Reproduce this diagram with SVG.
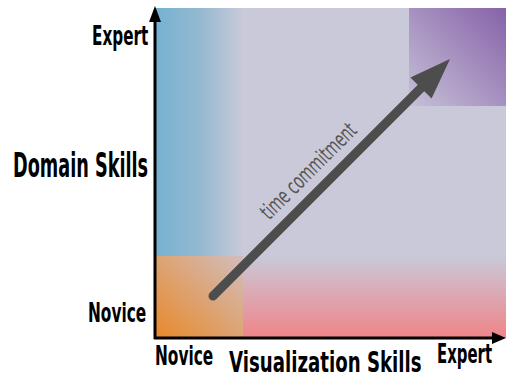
<svg xmlns="http://www.w3.org/2000/svg" width="506" height="379" viewBox="0 0 506 379">
  <defs>
    <linearGradient id="gBlue" x1="0" y1="0" x2="1" y2="0">
      <stop offset="0" stop-color="#75b1d2"/>
      <stop offset="0.5" stop-color="#93b9d0"/>
      <stop offset="1" stop-color="#c9c9d9"/>
    </linearGradient>
    <linearGradient id="gOrange" x1="0" y1="1" x2="1" y2="0">
      <stop offset="0" stop-color="#e8892a"/>
      <stop offset="1" stop-color="#d2bdbc"/>
    </linearGradient>
    <linearGradient id="gPink" x1="0" y1="0" x2="0" y2="1">
      <stop offset="0" stop-color="#c9c9d9"/>
      <stop offset="1" stop-color="#f08488"/>
    </linearGradient>
    <linearGradient id="gPurple" x1="0" y1="1" x2="1" y2="0">
      <stop offset="0" stop-color="#c6c0d7"/>
      <stop offset="1" stop-color="#8762a9"/>
    </linearGradient>
  </defs>
  <style>
    .lbl { font-family: "DejaVu Sans Condensed", "DejaVu Sans", "Liberation Sans", sans-serif; font-weight: bold; fill: #000; }
    .note { font-family: "DejaVu Sans Condensed", "DejaVu Sans", "Liberation Sans", sans-serif; font-weight: normal; fill: #555555; }
    .axis { stroke: #000; stroke-width: 3; fill: none; }
    .head { fill: #000; }
  </style>
  <rect width="506" height="379" fill="#ffffff"/>
  <g id="background">
    <rect x="155" y="8" width="351" height="330" fill="#c9c9d9"/>
    <rect x="155" y="8" width="88" height="248" fill="url(#gBlue)"/>
    <rect x="243" y="256" width="263" height="82" fill="url(#gPink)"/>
    <rect x="155" y="256" width="88" height="82" fill="url(#gOrange)"/>
    <rect x="409" y="8" width="97" height="98" fill="url(#gPurple)"/>
  </g>
  <g id="connectors">
    <g id="y-axis">
      <line class="axis" x1="155" y1="339" x2="155" y2="20"/>
      <polygon class="head" points="155,6 149,22 161,22"/>
    </g>
    <g id="x-axis">
      <line class="axis" x1="154" y1="338" x2="494" y2="338"/>
      <polygon class="head" points="506,338 492,332 492,344"/>
    </g>
    <g id="time-arrow">
      <line x1="213" y1="296" x2="423" y2="86" stroke="#4d4d4d" stroke-width="9" stroke-linecap="round"/>
      <polygon points="450,59 410.4,77.4 431.6,98.6" fill="#4d4d4d"/>
      <text class="note" font-size="22" text-anchor="middle" textLength="185" lengthAdjust="spacingAndGlyphs" transform="translate(313.75,176.25) rotate(-45) scale(0.68,1)">time commitment</text>
    </g>
  </g>
  <g id="label-domain-expert"><text class="lbl" font-size="26" textLength="88" lengthAdjust="spacingAndGlyphs" transform="translate(92,45) scale(0.64,1)">Expert</text></g>
  <g id="label-domain"><text class="lbl" font-size="33" textLength="229" lengthAdjust="spacingAndGlyphs" transform="translate(13,177) scale(0.59,1)">Domain Skills</text></g>
  <g id="label-domain-novice"><text class="lbl" font-size="27" textLength="91" lengthAdjust="spacingAndGlyphs" transform="translate(88,322) scale(0.64,1)">Novice</text></g>
  <g id="label-vis-novice"><text class="lbl" font-size="27" textLength="91" lengthAdjust="spacingAndGlyphs" transform="translate(155,365) scale(0.64,1)">Novice</text></g>
  <g id="label-vis"><text class="lbl" font-size="29" textLength="321" lengthAdjust="spacingAndGlyphs" transform="translate(229,372) scale(0.6,1)">Visualization Skills</text></g>
  <g id="label-vis-expert"><text class="lbl" font-size="26" textLength="86" lengthAdjust="spacingAndGlyphs" transform="translate(437,363) scale(0.64,1)">Expert</text></g>
</svg>
